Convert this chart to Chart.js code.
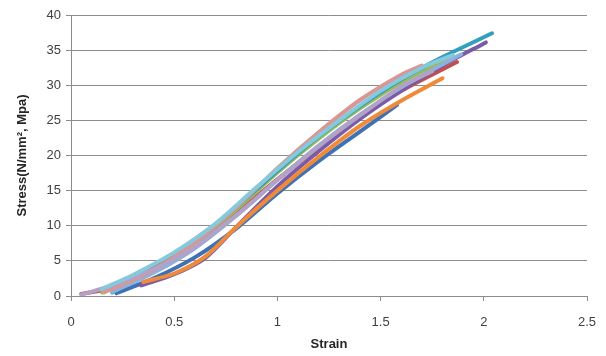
<!DOCTYPE html>
<html>
<head>
<meta charset="utf-8">
<script src="https://cdn.jsdelivr.net/npm/chart.js@4"></script>
<style>
  html, body { margin: 0; padding: 0; background: #fff; }
  #wrap { width: 606px; height: 356px; position: relative; }
</style>
</head>
<body>
<div id="wrap"><canvas id="chart"></canvas></div>
<script>
// strain / stress readings per specimen curve
const blueStrain = [0.22, 0.4, 0.6, 0.8, 1.0, 1.2, 1.4, 1.58];
const blueStress = [0.4, 2.5, 5.5, 9.6, 14.6, 19.2, 23.4, 27.2];
const redStrain = [0.05, 0.2, 0.4, 0.6, 0.8, 1.0, 1.2, 1.4, 1.6, 1.87];
const redStress = [0.3, 1.2, 4, 7.5, 11.8, 16.6, 21.2, 25.5, 29.2, 33.3];
const greenStrain = [0.15, 0.4, 0.6, 0.8, 1.0, 1.2, 1.4, 1.6, 1.85];
const greenStress = [0.5, 3.8, 7.5, 12.3, 17.6, 22.4, 26.7, 30.4, 34.2];
const purpleStrain = [0.34, 0.5, 0.65, 0.8, 1.0, 1.2, 1.4, 1.6, 1.8, 2.01];
const purpleStress = [1.5, 3.1, 5.4, 9.8, 15.6, 20.6, 25.2, 29.2, 32.8, 36.1];
const tealStrain = [0.2, 0.4, 0.6, 0.8, 1.0, 1.2, 1.4, 1.6, 1.8, 2.04];
const tealStress = [0.5, 3.5, 7.5, 12.6, 17.8, 22.7, 27, 30.8, 34, 37.4];
const orangeStrain = [0.35, 0.5, 0.65, 0.8, 1.0, 1.2, 1.4, 1.6, 1.8];
const orangeStress = [2, 3.2, 5.6, 9.8, 15, 19.8, 24.2, 27.8, 31];
const skyStrain = [0.2, 0.4, 0.6, 0.8, 1.0, 1.2, 1.4, 1.6, 1.89];
const skyStress = [0.6, 3.3, 6.8, 11.4, 16.5, 21.4, 25.8, 29.7, 34.4];
const pinkStrain = [0.16, 0.4, 0.6, 0.8, 1.0, 1.2, 1.4, 1.6, 1.7];
const pinkStress = [0.5, 3.7, 7.6, 12.6, 18.2, 23.3, 27.9, 31.5, 32.8];
const lilacStrain = [0.05, 0.2, 0.4, 0.6, 0.8, 1.0, 1.2, 1.4, 1.6, 1.75];
const lilacStress = [0.2, 1.5, 3.8, 7, 11.5, 16.5, 21.3, 25.7, 29.8, 32];
const aquaStrain = [0.15, 0.3, 0.5, 0.7, 0.9, 1.1, 1.3, 1.5, 1.7, 1.85];
const aquaStress = [1, 3, 6.2, 10.3, 15.5, 20.5, 25, 29.2, 32.5, 34.3];

const yTicks = [0, 5, 10, 15, 20, 25, 30, 35, 40];
const xTicks = [0, 0.5, 1, 1.5, 2, 2.5];

function pts(xs, ys) {
  return xs.map((x, i) => ({ x: x, y: ys[i] }));
}

const series = [
  { data: pts(blueStrain, blueStress), color: "#3F72B5" },
  { data: pts(redStrain, redStress), color: "#C0504D" },
  { data: pts(greenStrain, greenStress), color: "#9BBB59" },
  { data: pts(purpleStrain, purpleStress), color: "#7B5AA6" },
  { data: pts(tealStrain, tealStress), color: "#31A0BA" },
  { data: pts(orangeStrain, orangeStress), color: "#EE8A3A" },
  { data: pts(skyStrain, skyStress), color: "#8DB0DC" },
  { data: pts(pinkStrain, pinkStress), color: "#D99694" },
  { data: pts(lilacStrain, lilacStress), color: "#B3A2C7" },
  { data: pts(aquaStrain, aquaStress), color: "#86C8DC" },
];

const font = { family: "'Liberation Sans', Arial, sans-serif", size: 13 };

new Chart(document.getElementById("chart"), {
  type: "scatter",
  data: {
    datasets: series.map((s, i) => ({
      data: s.data,
      showLine: true,
      borderColor: s.color,
      backgroundColor: s.color,
      borderWidth: 4,
      pointRadius: 0,
      tension: 0.3,
      borderCapStyle: "round",
      order: series.length - i,
    })),
  },
  options: {
    responsive: true,
    maintainAspectRatio: false,
    animation: false,
    layout: { padding: { top: 15, right: 19, left: 13, bottom: 0 } },
    plugins: { legend: { display: false }, tooltip: { enabled: false } },
    scales: {
      x: {
        type: "linear",
        min: 0,
        max: 2.5,
        afterBuildTicks: (axis) => { axis.ticks = xTicks.map((v) => ({ value: v })); },
        grid: { drawOnChartArea: false, drawTicks: true, tickLength: 5, color: "#8C8C8C" },
        border: { color: "#8C8C8C", width: 1 },
        ticks: { color: "#404040", font: font, padding: 14, callback: (v) => String(v) },
        title: { display: true, text: "Strain", color: "#262626", font: { family: font.family, size: 13, weight: "bold" }, padding: { top: 6 } },
        afterFit: (axis) => { axis.height = 60; axis.paddingRight = 0; axis.paddingLeft = 0; },
      },
      y: {
        min: 0,
        max: 40,
        afterBuildTicks: (axis) => { axis.ticks = yTicks.map((v) => ({ value: v })); },
        grid: { color: "#8C8C8C", tickLength: 5, lineWidth: 1 },
        border: { color: "#8C8C8C", width: 1 },
        ticks: { color: "#404040", font: font, padding: 5 },
        title: { display: true, text: "Stress(N/mm\u00B2, Mpa)", color: "#262626", font: { family: font.family, size: 13, weight: "bold" }, padding: 2 },
        afterFit: (axis) => { axis.width = 58; },
      },
    },
  },
});
</script>
</body>
</html>
